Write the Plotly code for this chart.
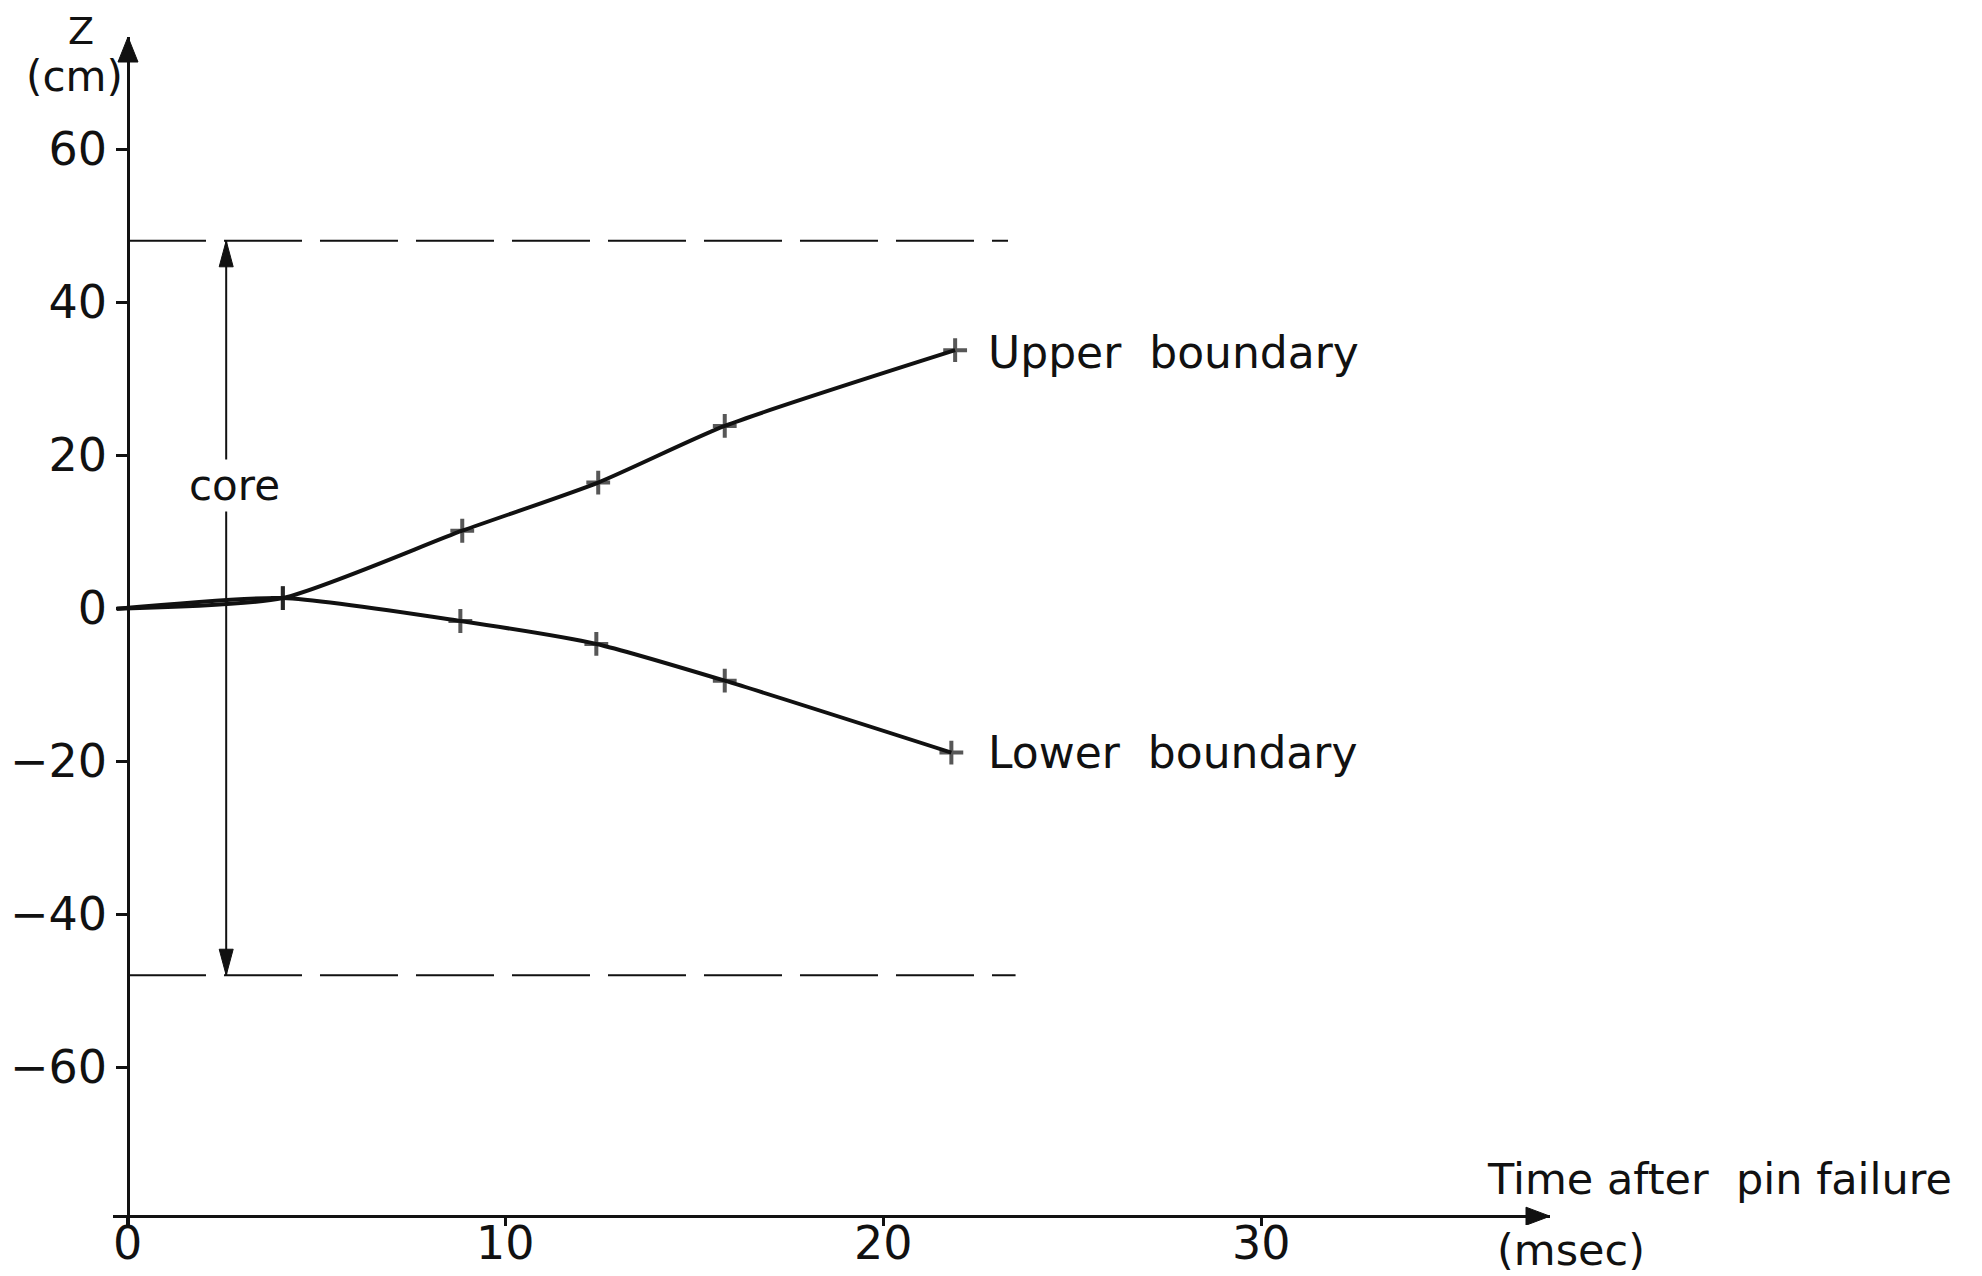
import plotly.graph_objects as go

# ---- data ----
upper_t = [-0.3, 4.1, 8.85, 12.45, 15.8, 21.9]
upper_z = [-0.1, 1.3, 10.1, 16.4, 23.8, 33.7]
lower_t = [-0.3, 4.1, 8.8, 12.4, 15.8, 21.8]
lower_z = [-0.1, 1.3, -1.7, -4.7, -9.5, -18.9]

core_top_z = 48.0
core_bottom_z = -48.0
core_top_end_t = 23.3
core_bottom_end_t = 23.5
core_arrow_t = 2.6

x_ticks = [0, 10, 20, 30]
y_ticks = [-60, -40, -20, 0, 20, 40, 60]

X_RANGE = [-0.397, 37.65]
Y_RANGE = [-80.65, 74.64]
X_AXIS_Z = -79.5

FONT = "DejaVu Sans"
BLACK = "#111111"

W, H = 1982, 1276
ml, mr, mt, mb = 113, 432, 37, 51
plot_h = H - mt - mb
plot_w = W - ml - mr


def px_to_paper(px, py):
    return (px - ml) / plot_w, (H - mb - py) / plot_h


fig = go.Figure()

# dashed core boundaries
fig.add_trace(go.Scatter(x=[0, core_top_end_t], y=[core_top_z, core_top_z], mode="lines",
                         line=dict(color=BLACK, width=2, dash="78px,18px"), hoverinfo="skip"))
fig.add_trace(go.Scatter(x=[0, core_bottom_end_t], y=[core_bottom_z, core_bottom_z], mode="lines",
                         line=dict(color=BLACK, width=2, dash="78px,18px"), hoverinfo="skip"))
# core arrow line
fig.add_trace(go.Scatter(x=[core_arrow_t, core_arrow_t], y=[core_bottom_z, core_top_z], mode="lines",
                         line=dict(color=BLACK, width=2), hoverinfo="skip"))

for tt, zz in [(upper_t, upper_z), (lower_t, lower_z)]:
    sizes = [0] + [17] * (len(tt) - 1)
    fig.add_trace(go.Scatter(x=tt, y=zz, mode="lines+markers",
                             line=dict(color=BLACK, width=4, shape="spline", smoothing=0.6),
                             marker=dict(symbol="cross-thin", size=sizes, color=BLACK,
                                         line=dict(color=BLACK, width=4)),
                             hoverinfo="skip"))

shapes = []


def head(xa, ya, path):
    shapes.append(dict(type="path", xref="x", yref="y", xsizemode="pixel", ysizemode="pixel",
                       xanchor=xa, yanchor=ya, path=path, fillcolor=BLACK,
                       line=dict(color=BLACK, width=1)))


# y-axis arrow (tip at top of range)
head(0, Y_RANGE[1], "M0,0 L-10,-25 L10,-25 Z")
# x-axis arrow
head(X_RANGE[1], X_AXIS_Z, "M0,0 L-24,9 L-24,-9 Z")
# core arrows
head(core_arrow_t, core_top_z, "M0,0 L-7,-26 L7,-26 Z")
head(core_arrow_t, core_bottom_z, "M0,0 L-7,26 L7,26 Z")

zx, zy = px_to_paper(81, 31)
cx, cy = px_to_paper(74, 77)
ms_x, ms_y = px_to_paper(1495, 1250)

annotations = [
    dict(x=zx, y=zy, xref="paper", yref="paper", text="Z", showarrow=False,
         xanchor="center", yanchor="middle",
         font=dict(family=FONT, size=38, color=BLACK)),
    dict(x=cx, y=cy, xref="paper", yref="paper", text="(cm)", showarrow=False,
         xanchor="center", yanchor="middle",
         font=dict(family=FONT, size=42, color=BLACK)),
    dict(x=35.93, y=-74.6, xref="x", yref="y", text="Time after\u00a0 pin failure", showarrow=False,
         xanchor="left", yanchor="middle", font=dict(family=FONT, size=43, color=BLACK)),
    dict(x=ms_x, y=ms_y, xref="paper", yref="paper", text="(msec)", showarrow=False,
         xanchor="left", yanchor="middle", font=dict(family=FONT, size=43, color=BLACK)),
    dict(x=22.72, y=33.4, xref="x", yref="y", text="Upper\u00a0 boundary", showarrow=False,
         xanchor="left", yanchor="middle", font=dict(family=FONT, size=44, color=BLACK)),
    dict(x=22.72, y=-18.9, xref="x", yref="y", text="Lower\u00a0 boundary", showarrow=False,
         xanchor="left", yanchor="middle", font=dict(family=FONT, size=44, color=BLACK)),
    dict(x=2.83, y=16.0, xref="x", yref="y", text="core", showarrow=False,
         xanchor="center", yanchor="middle",
         bgcolor="white", font=dict(family=FONT, size=42, color=BLACK)),
]

# x tick labels (placed on the x scale, just below the axis line)
for v in x_ticks:
    annotations.append(dict(x=v, y=X_AXIS_Z, xref="x", yref="y", text=str(v), showarrow=False,
                            xanchor="center", yanchor="top", yshift=2,
                            font=dict(family=FONT, size=46, color=BLACK)))

fig.update_layout(
    width=W, height=H,
    margin=dict(l=ml, r=mr, t=mt, b=mb, autoexpand=False),
    paper_bgcolor="white", plot_bgcolor="white",
    showlegend=False,
    shapes=shapes, annotations=annotations,
    xaxis=dict(range=X_RANGE, showgrid=False, zeroline=False, showline=True,
               linecolor=BLACK, linewidth=2.5, anchor="free",
               position=(X_AXIS_Z - Y_RANGE[0]) / (Y_RANGE[1] - Y_RANGE[0]),
               tickmode="array", tickvals=x_ticks, showticklabels=False,
               ticks="outside", ticklen=8, tickwidth=2.5, tickcolor=BLACK),
    yaxis=dict(range=Y_RANGE, showgrid=False, zeroline=False, showline=True,
               linecolor=BLACK, linewidth=2.5, anchor="free",
               position=(0 - X_RANGE[0]) / (X_RANGE[1] - X_RANGE[0]),
               tickmode="array", tickvals=y_ticks,
               ticktext=[str(v).replace("-", "\u2212") for v in y_ticks],
               ticks="outside", ticklen=11, tickwidth=2.5, tickcolor=BLACK,
               tickfont=dict(family=FONT, size=46, color=BLACK)),
    font=dict(family=FONT, color=BLACK),
)

fig.write_html("out.html")
